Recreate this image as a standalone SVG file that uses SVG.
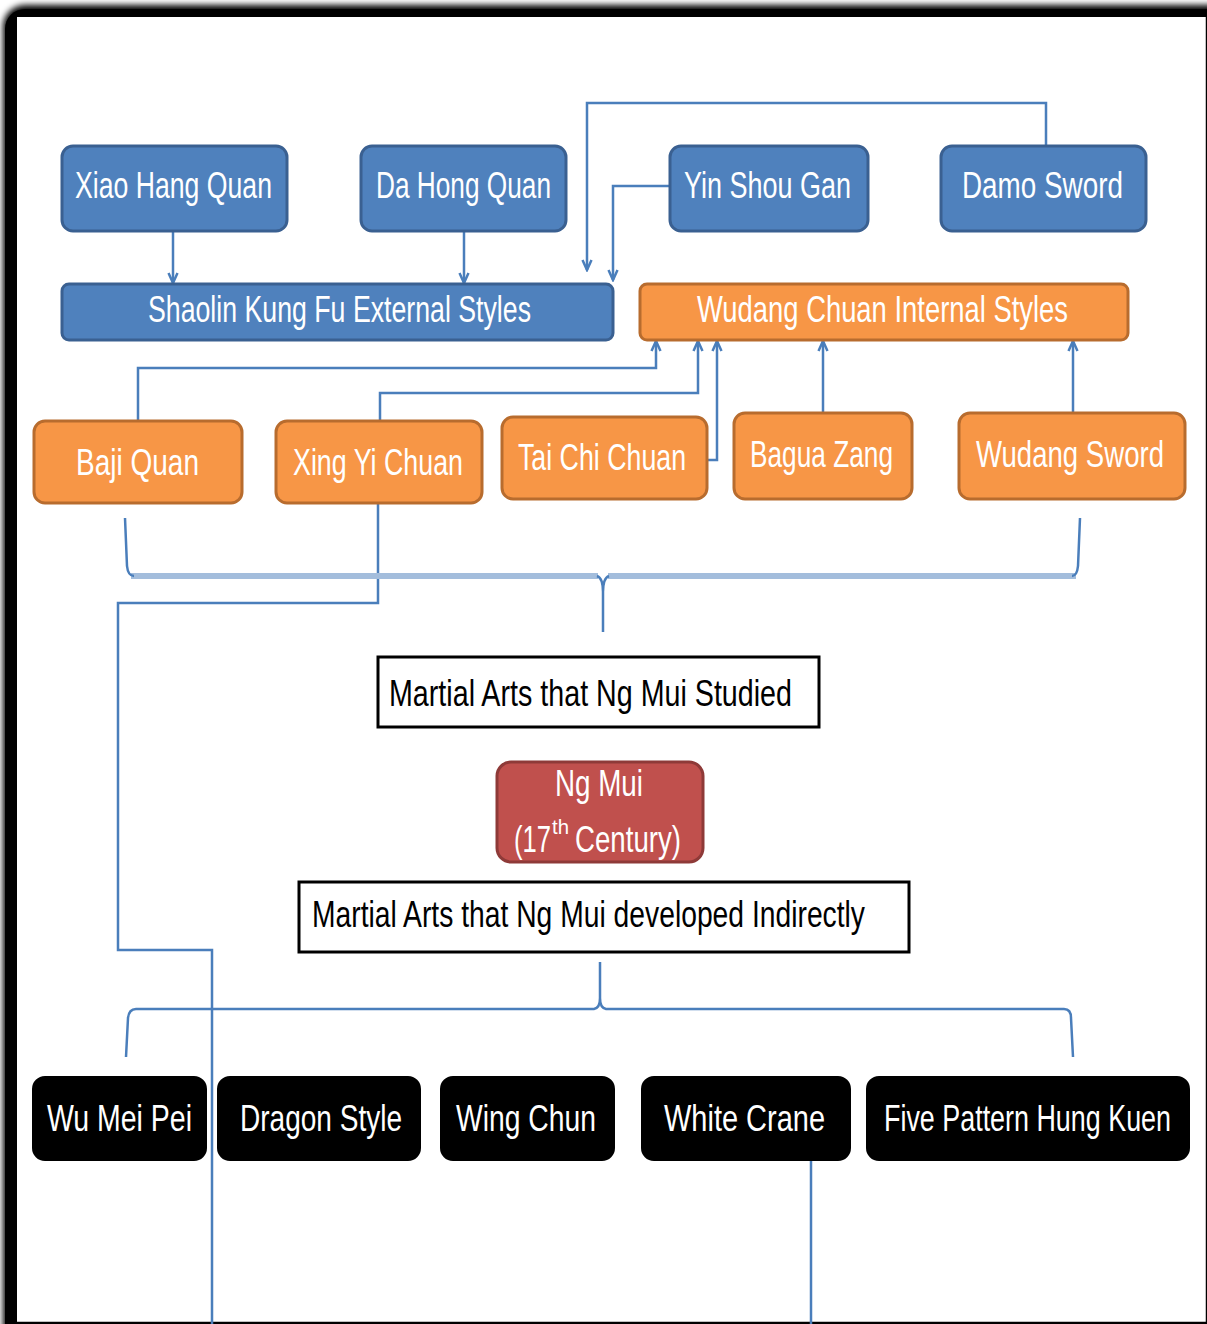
<svg xmlns="http://www.w3.org/2000/svg" width="1207" height="1324" viewBox="0 0 1207 1324">
<defs>
<style>
.t{font-family:"Liberation Sans",Arial,sans-serif;font-size:37px;fill:#fff}
.tb{font-family:"Liberation Sans",Arial,sans-serif;font-size:37px;fill:#000}
.blue{fill:#4F81BD;stroke:#3A6091;stroke-width:3}
.orange{fill:#F79646;stroke:#B86C2E;stroke-width:3}
.red{fill:#C0504D;stroke:#8E3A38;stroke-width:3}
.black{fill:#000;stroke:#000;stroke-width:2}
.lbl{fill:#fff;stroke:#000;stroke-width:3}
.c{fill:none;stroke:#4A7EBB;stroke-width:2.5}
.cl{fill:none;stroke:#A3BDDC;stroke-width:6}
</style>
<marker id="arr" markerUnits="userSpaceOnUse" markerWidth="14" markerHeight="14" refX="12" refY="7" orient="auto" viewBox="0 0 14 14">
<path d="M2,2.5 L12,7 L2,11.5" fill="none" stroke="#4A7EBB" stroke-width="2.5"/>
</marker>
<filter id="blur" x="-5%" y="-5%" width="110%" height="110%"><feGaussianBlur stdDeviation="3"/></filter>
</defs>
<rect width="1207" height="1324" fill="#fff"/>
<g id="frame">
<rect x="3" y="5" width="1300" height="1400" rx="22" fill="#000" filter="url(#blur)"/>
<rect x="5" y="9" width="1300" height="1400" rx="20" fill="#000"/>
<rect x="17" y="17" width="1189" height="1305" fill="#fff"/>
<line x1="1206.5" y1="17" x2="1206.5" y2="1324" stroke="#000" stroke-width="1.5"/>
<line x1="17" y1="1322.5" x2="1207" y2="1322.5" stroke="#000" stroke-width="1.5"/>
</g>
<g id="connectors">
<path class="c" d="M173,231 V283" marker-end="url(#arr)"/>
<path class="c" d="M464,231 V283" marker-end="url(#arr)"/>
<path class="c" d="M1046,146 V103 H587 V270" marker-end="url(#arr)"/>
<path class="c" d="M670,186 H613 V280" marker-end="url(#arr)"/>
<path class="c" d="M138,420 V368 H656 V341" marker-end="url(#arr)"/>
<path class="c" d="M380,420 V393 H698 V341" marker-end="url(#arr)"/>
<path class="c" d="M707,460 H717 V341" marker-end="url(#arr)"/>
<path class="c" d="M823,413 V341" marker-end="url(#arr)"/>
<path class="c" d="M1073,413 V341" marker-end="url(#arr)"/>
<path class="c" d="M378,503 V603 H118 V950 H212 V1324"/>
<path class="c" d="M811,1160 V1324"/>
<path class="cl" d="M131,576 H598 M608,576 H1076"/>
<path class="c" d="M125,518 L127,566 Q128,576 134,576 M1080,518 L1078,566 Q1077,576 1072,576 M597,576 Q603,578 603,592 V632 M609,576 Q603,578 603,592"/>
<path class="c" d="M126,1057 L128,1018 Q129,1009 136,1009 H594 Q600,1008 600,998 V962 M600,998 Q600,1008 606,1009 H1064 Q1071,1009 1071,1018 L1073,1057"/>
</g>
<g id="n-xiao"><rect class="blue" x="62" y="146" width="225" height="85" rx="11"/><text class="t" x="75" y="198" textLength="197" lengthAdjust="spacingAndGlyphs">Xiao Hang Quan</text></g>
<g id="n-dahong"><rect class="blue" x="361" y="146" width="205" height="85" rx="11"/><text class="t" x="376" y="198" textLength="175" lengthAdjust="spacingAndGlyphs">Da Hong Quan</text></g>
<g id="n-yin"><rect class="blue" x="670" y="146" width="198" height="85" rx="11"/><text class="t" x="684" y="198" textLength="167" lengthAdjust="spacingAndGlyphs">Yin Shou Gan</text></g>
<g id="n-damo"><rect class="blue" x="941" y="146" width="205" height="85" rx="11"/><text class="t" x="962" y="198" textLength="161" lengthAdjust="spacingAndGlyphs">Damo Sword</text></g>
<g id="n-shaolin"><rect class="blue" x="62" y="284" width="551" height="56" rx="7"/><text class="t" x="148" y="322" textLength="383" lengthAdjust="spacingAndGlyphs">Shaolin Kung Fu External Styles</text></g>
<g id="n-wudang"><rect class="orange" x="640" y="284" width="488" height="56" rx="7"/><text class="t" x="697" y="322" textLength="371" lengthAdjust="spacingAndGlyphs">Wudang Chuan Internal Styles</text></g>
<g id="n-baji"><rect class="orange" x="34" y="421" width="208" height="82" rx="11"/><text class="t" x="76" y="475" textLength="123" lengthAdjust="spacingAndGlyphs">Baji Quan</text></g>
<g id="n-xingyi"><rect class="orange" x="276" y="421" width="206" height="82" rx="11"/><text class="t" x="293" y="475" textLength="170" lengthAdjust="spacingAndGlyphs">Xing Yi Chuan</text></g>
<g id="n-taichi"><rect class="orange" x="502" y="417" width="205" height="82" rx="11"/><text class="t" x="518" y="470" textLength="168" lengthAdjust="spacingAndGlyphs">Tai Chi Chuan</text></g>
<g id="n-bagua"><rect class="orange" x="734" y="413" width="178" height="86" rx="11"/><text class="t" x="750" y="467" textLength="143" lengthAdjust="spacingAndGlyphs">Bagua Zang</text></g>
<g id="n-wudangsword"><rect class="orange" x="959" y="413" width="226" height="86" rx="11"/><text class="t" x="976" y="467" textLength="188" lengthAdjust="spacingAndGlyphs">Wudang Sword</text></g>
<g id="n-studied"><rect class="lbl" x="378" y="657" width="441" height="70"/><text class="tb" x="389" y="706" textLength="403" lengthAdjust="spacingAndGlyphs">Martial Arts that Ng Mui Studied</text></g>
<g id="n-ngmui"><rect class="red" x="497" y="762" width="206" height="100" rx="14"/><text class="t" x="555" y="796" textLength="88" lengthAdjust="spacingAndGlyphs">Ng Mui</text><text class="t" x="514" y="852"><tspan textLength="37" lengthAdjust="spacingAndGlyphs">(17</tspan><tspan x="552" y="834" style="font-size:20px" textLength="17" lengthAdjust="spacingAndGlyphs">th</tspan><tspan x="575" y="852" textLength="106" lengthAdjust="spacingAndGlyphs">Century)</tspan></text></g>
<g id="n-indirect"><rect class="lbl" x="299" y="882" width="610" height="70"/><text class="tb" x="312" y="927" textLength="553" lengthAdjust="spacingAndGlyphs">Martial Arts that Ng Mui developed Indirectly</text></g>
<g id="n-wumeipei"><rect class="black" x="33" y="1077" width="173" height="83" rx="12"/><text class="t" x="47" y="1131" textLength="145" lengthAdjust="spacingAndGlyphs">Wu Mei Pei</text></g>
<g id="n-dragon"><rect class="black" x="218" y="1077" width="202" height="83" rx="12"/><text class="t" x="240" y="1131" textLength="162" lengthAdjust="spacingAndGlyphs">Dragon Style</text></g>
<g id="n-wingchun"><rect class="black" x="441" y="1077" width="173" height="83" rx="12"/><text class="t" x="456" y="1131" textLength="140" lengthAdjust="spacingAndGlyphs">Wing Chun</text></g>
<g id="n-whitecrane"><rect class="black" x="642" y="1077" width="208" height="83" rx="12"/><text class="t" x="664" y="1131" textLength="161" lengthAdjust="spacingAndGlyphs">White Crane</text></g>
<g id="n-fivepattern"><rect class="black" x="867" y="1077" width="322" height="83" rx="12"/><text class="t" x="884" y="1131" textLength="287" lengthAdjust="spacingAndGlyphs">Five Pattern Hung Kuen</text></g>
</svg>
